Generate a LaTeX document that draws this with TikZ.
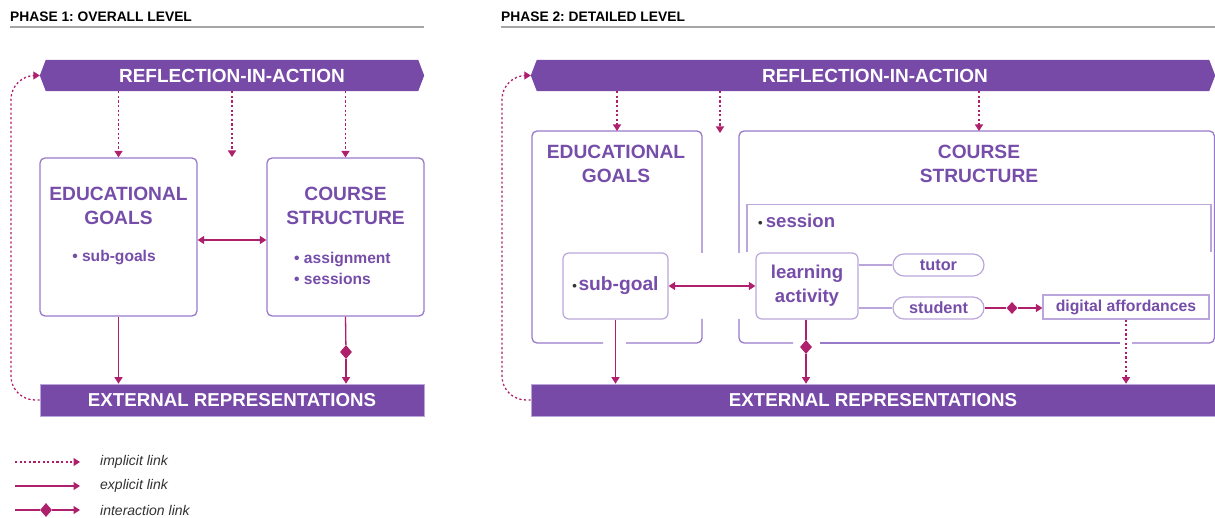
\documentclass[tikz,border=0pt]{standalone}
\usepackage{fontspec}
\setmainfont{Liberation Sans}
\usetikzlibrary{arrows.meta,shapes.geometric,calc}
\frenchspacing
\definecolor{banner}{RGB}{119,74,168}
\definecolor{ptext}{RGB}{118,78,170}
\definecolor{boxline}{RGB}{152,122,202}
\definecolor{lightline}{RGB}{186,166,218}
\definecolor{mag}{RGB}{174,32,108}
\definecolor{rulegray}{RGB}{165,165,165}
\definecolor{legtext}{RGB}{50,50,50}
\tikzset{
  hdr/.style={anchor=west,inner sep=0,font=\fontsize{13.8}{16}\selectfont\bfseries,text=black},
  bannertext/.style={inner sep=0,minimum height=31pt,text=white,font=\fontsize{19}{22}\selectfont\bfseries},
  extbox/.style={fill=banner,draw=lightline,line width=0.6pt,inner sep=0,minimum height=32pt,text=white,font=\fontsize{18.7}{22}\selectfont\bfseries},
  bigbox/.style={draw=boxline,line width=1.3pt,rounded corners=5pt,fill=white,inner sep=0},
  outline/.style={draw=boxline,line width=1.3pt,rounded corners=5pt},
  title/.style={align=center,inner sep=0,text=ptext,font=\fontsize{19.2}{24}\selectfont\bfseries},
  bul/.style={inner sep=0,text=ptext,font=\fontsize{15.6}{21}\selectfont\bfseries},
  inbox/.style={draw=lightline,line width=1.2pt,fill=white,inner sep=0,text=ptext,font=\fontsize{18.6}{24}\selectfont\bfseries,align=center},
  pill/.style={draw=lightline,line width=1.2pt,fill=white,inner sep=0,rounded corners=11pt,minimum width=91pt,minimum height=22pt,text=ptext,font=\fontsize{16.3}{18}\selectfont\bfseries},
  implicit/.style={draw=mag,line width=1.3pt,dash pattern=on 2.2pt off 2.4pt,-{Triangle[length=6.5pt,width=8pt]}},
  explicit/.style={draw=mag,line width=1.3pt,-{Triangle[length=6.5pt,width=8pt]}},
  plainlink/.style={draw=mag,line width=1.3pt},
  both/.style={draw=mag,line width=1.3pt,{Triangle[length=6.5pt,width=8pt]}-{Triangle[length=6.5pt,width=8pt]}},
  dia/.style={diamond,fill=mag,inner sep=0,minimum width=12pt,minimum height=14pt},
  dotb/.style={},
  legend/.style={anchor=west,inner sep=0,text=legtext,font=\fontsize{14}{16}\selectfont\itshape},
}
\newcommand{\darkdot}{{\color{legtext}\fontsize{13}{12}\selectfont\textbullet}}
\begin{document}
\begin{tikzpicture}[x=1pt,y=-1pt]
\useasboundingbox (0,0) rectangle (1215,518);

% headers
\node[hdr] (h1) at (10,17) {PHASE 1: OVERALL LEVEL};
\draw[rulegray,line width=1.5pt] (10,27) -- (424,27);
\node[hdr] (h2) at (501,17) {PHASE 2: DETAILED LEVEL};
\draw[rulegray,line width=1.5pt] (501,27) -- (1215,27);

% ===== PHASE 1 =====
\node[bannertext,minimum width=384pt] (r1) at (232,75.5) {};
\fill[banner] (r1.west) -- ($(r1.north west)+(6,0)$) -- ($(r1.north east)+(-6,0)$) -- (r1.east) -- ($(r1.south east)+(-6,0)$) -- ($(r1.south west)+(6,0)$) -- cycle;
\node[bannertext] (r1t) at (232,75.5) {REFLECTION-IN-ACTION};

\node[bigbox,minimum width=157pt,minimum height=158pt] (eg1) at (118.5,237) {};
\node[title] (eg1t) at (118.5,206) {EDUCATIONAL\\GOALS};
\node[bul] (eg1b) at (114,258) {\textbullet\ sub-goals};

\node[bigbox,minimum width=157pt,minimum height=158pt] (cs1) at (345.5,237) {};
\node[title] (cs1t) at (345.5,206) {COURSE\\STRUCTURE};
\node[bul,anchor=west,align=left] (cs1b) at (294,268) {\textbullet\ assignment\\\textbullet\ sessions};

\node[extbox,minimum width=384pt] (ext1) at (232,400) {EXTERNAL REPRESENTATIONS};

\coordinate (m1) at (232,157);
\draw[implicit] (r1.south -| eg1.north) -- (eg1.north);
\draw[implicit] (r1.south -| m1) -- (m1);
\draw[implicit] (r1.south -| cs1.north) -- (cs1.north);
\draw[both] ([yshift=-3pt]eg1.east) -- ([yshift=-3pt]cs1.west);
\draw[explicit] (eg1.south) -- (eg1.south |- ext1.north);
\node[dia] (d1) at (346,352) {};
\draw[plainlink] (cs1.south) -- (d1);
\draw[explicit] (d1) -- (d1 |- ext1.north);
\draw[implicit,rounded corners=24pt] (ext1.west) -- (11,400) -- (11,75.5) -- (r1.west);

% ===== PHASE 2 =====
\node[bannertext,minimum width=684pt] (r2) at (873,75.5) {};
\fill[banner] (r2.west) -- ($(r2.north west)+(6,0)$) -- ($(r2.north east)+(-6,0)$) -- (r2.east) -- ($(r2.south east)+(-6,0)$) -- ($(r2.south west)+(6,0)$) -- cycle;
\node[bannertext] (r2t) at (875,75.5) {REFLECTION-IN-ACTION};

% educational goals outline (with gaps)
\draw[outline] (702,253) -- (702,131) -- (532,131) -- (532,343) -- (603,343);
\draw[outline] (626,343) -- (702,343) -- (702,319);
\node[title] (eg2t) at (616,164) {EDUCATIONAL\\GOALS};
% course structure outline (with gaps)
\draw[outline] (739,253) -- (739,131) -- (1214.4,131) -- (1214.4,343) -- (1132,343);
\draw[outline] (1120,343) -- (820,343);
\draw[outline] (793,343) -- (739,343) -- (739,319);
\node[title] (cs2t) at (979,164) {COURSE\\STRUCTURE};
% session frame
\draw[lightline,line width=1.2pt] (747,252) -- (747,204.5) -- (1211,204.5) -- (1211,252);
\node[bul,anchor=west,font=\fontsize{18.6}{20}\selectfont\bfseries] (ses) at (758,221) {\darkdot\,session};

\node[inbox,rounded corners=6pt,minimum width=105pt,minimum height=66pt,font=\fontsize{19.2}{24}\selectfont\bfseries] (sg) at (615.5,286) {\darkdot\kern1.5pt sub-goal};
\node[inbox,rounded corners=6pt,minimum width=102pt,minimum height=66pt] (la) at (807,286) {learning\\activity};
\node[pill] (tutor) at (938.5,265) {tutor};
\node[pill] (student) at (938.5,308) {student};
\node[inbox,minimum width=166pt,minimum height=24pt,font=\fontsize{15.8}{18}\selectfont\bfseries] (da) at (1126,307) {digital affordances};

\node[extbox,minimum width=684pt] (ext2) at (873,400) {EXTERNAL REPRESENTATIONS};

\coordinate (eg2top) at (617,131);
\coordinate (m2) at (720,133);
\coordinate (cs2top) at (979,131);
\draw[implicit] (r2.south -| eg2top) -- (eg2top);
\draw[implicit] (r2.south -| m2) -- (m2);
\draw[implicit] (r2.south -| cs2top) -- (cs2top);
\draw[both] (sg.east) -- (la.west);
\draw[explicit] (sg.south) -- (sg.south |- ext2.north);
\node[dia] (d2) at (806,347) {};
\draw[plainlink] (la.south -| d2) -- (d2);
\draw[explicit] (d2) -- (d2 |- ext2.north);
\draw[lightline,line width=1.2pt] (la.east |- tutor.west) -- (tutor.west);
\draw[lightline,line width=1.2pt] (la.east |- student.west) -- (student.west);
\node[dia,minimum width=11pt,minimum height=12pt] (d3) at (1012,308) {};
\draw[plainlink] (student.east) -- (d3);
\draw[explicit] (d3) -- (d3 -| da.west);
\draw[implicit] (da.south) -- (da.south |- ext2.north);
\draw[implicit,rounded corners=24pt] (ext2.west) -- (502,400) -- (502,75.5) -- (r2.west);

% ===== LEGEND =====
\coordinate (l1a) at (15,462); \coordinate (l1b) at (80,462);
\coordinate (l2a) at (15,486); \coordinate (l2b) at (80,486);
\coordinate (l3a) at (15,510); \coordinate (l3b) at (80,510);
\draw[implicit] (l1a) -- (l1b);
\draw[explicit] (l2a) -- (l2b);
\node[dia] (d4) at (46,510) {};
\draw[plainlink] (l3a) -- (d4);
\draw[explicit] (d4) -- (l3b);
\node[legend] (t1) at (100,462) {implicit link};
\node[legend] (t2) at (100,486) {explicit link};
\node[legend] (t3) at (100,510) {interaction link};
\end{tikzpicture}
\end{document}
